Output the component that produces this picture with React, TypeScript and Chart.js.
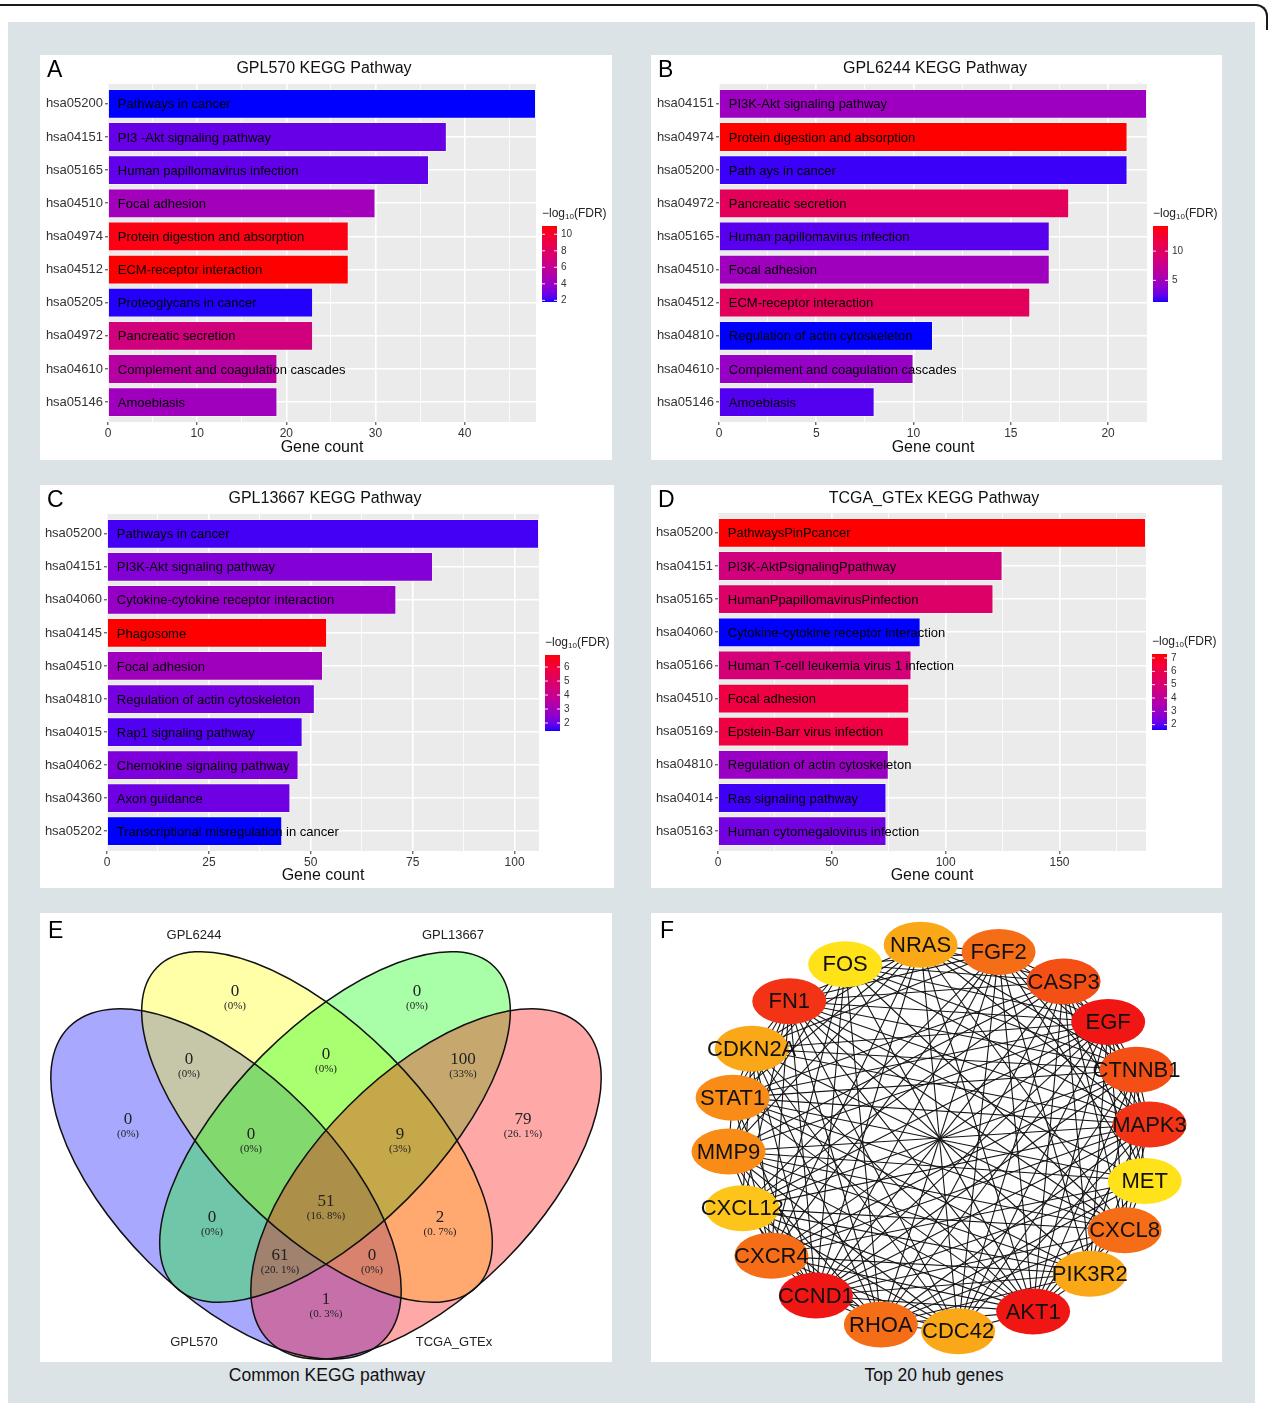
import React, { useEffect, useRef } from "react";
import { Chart, registerables } from "chart.js";

Chart.register(...registerables);

const SANS = '"Liberation Sans", Arial, Helvetica, sans-serif';
const SERIF = '"Liberation Serif", "Times New Roman", serif';
Chart.defaults.font.family = SANS;

// ---------------- Panel A : GPL570 ----------------
const codesA = ["hsa05200", "hsa04151", "hsa05165", "hsa04510", "hsa04974", "hsa04512", "hsa05205", "hsa04972", "hsa04610", "hsa05146"];
const pathwaysA = ["Pathways in cancer", "PI3 -Akt signaling pathway", "Human papillomavirus infection", "Focal adhesion", "Protein digestion and absorption", "ECM-receptor interaction", "Proteoglycans in cancer", "Pancreatic secretion", "Complement and coagulation cascades", "Amoebiasis"];
const countsA = [48, 38, 36, 30, 27, 27, 23, 23, 19, 19];
const log10FdrA = [1.8, 2.7, 2.6, 4.4, 10.7, 11.0, 1.9, 6.9, 5.3, 4.3];
const xTicksA = [0, 10, 20, 30, 40];
const legendTicksA = [2, 4, 6, 8, 10];

// ---------------- Panel B : GPL6244 ----------------
const codesB = ["hsa04151", "hsa04974", "hsa05200", "hsa04972", "hsa05165", "hsa04510", "hsa04512", "hsa04810", "hsa04610", "hsa05146"];
const pathwaysB = ["PI3K-Akt signaling pathway", "Protein digestion and absorption", "Path ays in cancer", "Pancreatic secretion", "Human papillomavirus infection", "Focal adhesion", "ECM-receptor interaction", "Regulation of actin cytoskeleton", "Complement and coagulation cascades", "Amoebiasis"];
const countsB = [22, 21, 21, 18, 17, 17, 16, 11, 10, 8];
const log10FdrB = [4.7, 14.3, 1.7, 10.4, 2.2, 4.8, 10.4, 1.3, 4.4, 2.1];
const xTicksB = [0, 5, 10, 15, 20];
const legendTicksB = [5, 10];

// ---------------- Panel C : GPL13667 ----------------
const codesC = ["hsa05200", "hsa04151", "hsa04060", "hsa04145", "hsa04510", "hsa04810", "hsa04015", "hsa04062", "hsa04360", "hsa05202"];
const pathwaysC = ["Pathways in cancer", "PI3K-Akt signaling pathway", "Cytokine-cytokine receptor interaction", "Phagosome", "Focal adhesion", "Regulation of actin cytoskeleton", "Rap1 signaling pathway", "Chemokine signaling pathway", "Axon guidance", "Transcriptional misregulation in cancer"];
const countsC = [106, 80, 71, 54, 53, 51, 48, 47, 45, 43];
const log10FdrC = [1.65, 2.35, 2.7, 6.86, 2.9, 2.15, 1.75, 2.25, 2.05, 1.43];
const xTicksC = [0, 25, 50, 75, 100];
const legendTicksC = [2, 3, 4, 5, 6];

// ---------------- Panel D : TCGA_GTEx ----------------
const codesD = ["hsa05200", "hsa04151", "hsa05165", "hsa04060", "hsa05166", "hsa04510", "hsa05169", "hsa04810", "hsa04014", "hsa05163"];
const pathwaysD = ["PathwaysPinPcancer", "PI3K-AktPsignalingPpathway", "HumanPpapillomavirusPinfection", "Cytokine-cytokine receptor interaction", "Human T-cell leukemia virus 1 infection", "Focal adhesion", "Epstein-Barr virus infection", "Regulation of actin cytoskeleton", "Ras signaling pathway", "Human cytomegalovirus infection"];
const countsD = [188, 125, 121, 89, 85, 84, 84, 75, 74, 74];
const log10FdrD = [7.3, 4.75, 5.3, 1.6, 4.9, 6.2, 6.2, 3.0, 1.8, 2.3];
const xTicksD = [0, 50, 100, 150];
const legendTicksD = [2, 3, 4, 5, 6, 7];

// ---------------- Panel E : Venn ----------------
const vennSets = ["GPL570", "GPL6244", "GPL13667", "TCGA_GTEx"];
// region order: 570, 6244, 13667, TCGA, 570&6244, 6244&13667, 13667&TCGA, 570&6244&13667,
// 6244&13667&TCGA, all, 570&13667, 6244&TCGA, 570&13667&TCGA, 570&6244&TCGA, 570&TCGA
const vennCounts = [0, 0, 0, 79, 0, 0, 100, 0, 9, 51, 0, 2, 61, 0, 1];

// ---------------- Panel F : network ----------------
const hubGenes = ["MAPK3", "MET", "CXCL8", "PIK3R2", "AKT1", "CDC42", "RHOA", "CCND1", "CXCR4", "CXCL12", "MMP9", "STAT1", "CDKN2A", "FN1", "FOS", "NRAS", "FGF2", "CASP3", "EGF", "CTNNB1"];
const absentLinks = [
  "MET-FOS", "MET-CXCL12", "MET-NRAS", "MET-CDC42", "MET-CDKN2A", "MET-PIK3R2", "MET-MAPK3",
  "FOS-CXCL12", "FOS-PIK3R2", "FOS-CDKN2A", "FOS-CDC42", "FOS-NRAS", "FOS-FN1",
  "CXCL12-STAT1", "CXCL12-MMP9", "CXCL12-NRAS", "CXCL12-CXCR4",
  "NRAS-RHOA", "NRAS-PIK3R2", "CDC42-PIK3R2", "CDC42-STAT1", "CDC42-CXCL8",
  "PIK3R2-CDKN2A", "CDKN2A-MMP9", "CDKN2A-CASP3", "STAT1-RHOA", "STAT1-FGF2",
  "MMP9-CTNNB1", "MMP9-FGF2", "CXCR4-CXCL8", "CXCR4-CASP3", "RHOA-CTNNB1", "CXCL8-FGF2",
];

// ---------------- layout (not data) ----------------
const VENN_W = 572, VENN_H = 449;
const vennEllipses = [
  { cx: 186, cy: 271, a: 222, b: 110, rot: 45, color: "rgba(0,0,255,0.34)" },
  { cx: 277, cy: 214, a: 226, b: 102, rot: 45, color: "rgba(255,255,0,0.34)" },
  { cx: 295, cy: 214, a: 226, b: 102, rot: -45, color: "rgba(0,255,0,0.34)" },
  { cx: 386, cy: 271, a: 222, b: 110, rot: -45, color: "rgba(255,0,0,0.34)" },
];
const vennLabelPos = [[88, 207], [195, 79], [377, 79], [483, 207], [149, 147], [286, 142], [423, 147], [211, 222], [360, 222], [286, 289], [172, 305], [400, 305], [240, 343], [332, 343], [286, 387]];
const vennSetLabelPos = [[154, 429], [154, 22], [413, 22], [414, 429]];

const NET_W = 571, NET_H = 449;
const NET_CX = 288, NET_CY = 225, NET_RX = 211, NET_RY = 194;
const nodeAngles = [-4, 12.8, 28.4, 44.4, 63.5, 84.8, 106, 125.7, 142.6, 158.8, 176, 192, 207.4, 224.8, 243.6, 265, 286.4, 306.2, 323.3, 339.4];

// ---------------- colour helpers ----------------
function toLin(c: number) { const s = c / 255; return s <= 0.04045 ? s / 12.92 : Math.pow((s + 0.055) / 1.055, 2.4); }
function fromLin(c: number) { const v = c <= 0.0031308 ? 12.92 * c : 1.055 * Math.pow(Math.max(c, 0), 1 / 2.4) - 0.055; return Math.round(Math.max(0, Math.min(1, v)) * 255); }
const WX = 0.95047, WZ = 1.08883;
function rgb2lab(r: number, g: number, b: number) {
  const R = toLin(r), G = toLin(g), B = toLin(b);
  const X = (0.4124 * R + 0.3576 * G + 0.1805 * B) / WX;
  const Y = 0.2126 * R + 0.7152 * G + 0.0722 * B;
  const Z = (0.0193 * R + 0.1192 * G + 0.9505 * B) / WZ;
  const f = (t: number) => (t > 0.008856 ? Math.cbrt(t) : 7.787 * t + 16 / 116);
  const fx = f(X), fy = f(Y), fz = f(Z);
  return [116 * fy - 16, 500 * (fx - fy), 200 * (fy - fz)];
}
function lab2rgb(L: number, a: number, b: number) {
  const fy = (L + 16) / 116, fx = fy + a / 500, fz = fy - b / 200;
  const fi = (t: number) => (t * t * t > 0.008856 ? t * t * t : (t - 16 / 116) / 7.787);
  const X = fi(fx) * WX, Y = fi(fy), Z = fi(fz) * WZ;
  return [
    fromLin(3.2406 * X - 1.5372 * Y - 0.4986 * Z),
    fromLin(-0.9689 * X + 1.8758 * Y + 0.0415 * Z),
    fromLin(0.0557 * X - 0.204 * Y + 1.057 * Z),
  ];
}
const LAB_LOW = rgb2lab(0, 0, 255);
const LAB_HIGH = rgb2lab(255, 0, 0);
function gradColor(t: number) {
  const u = Math.max(0, Math.min(1, t));
  const [r, g, b] = lab2rgb(
    LAB_LOW[0] + (LAB_HIGH[0] - LAB_LOW[0]) * u,
    LAB_LOW[1] + (LAB_HIGH[1] - LAB_LOW[1]) * u,
    LAB_LOW[2] + (LAB_HIGH[2] - LAB_LOW[2]) * u
  );
  return `rgb(${r},${g},${b})`;
}

// ---------------- bar panels ----------------
type BarCfg = {
  id: string; left: number; top: number; w: number; h: number;
  plot: [number, number, number, number];
  letter: string; title: string;
  codes: string[]; names: string[]; counts: number[]; fdr: number[];
  xTicks: number[]; legendTicks: number[]; legendTop: number;
};

const barPanels: BarCfg[] = [
  { id: "A", left: 40, top: 55, w: 572, h: 405, plot: [68, 29, 496, 367], letter: "A", title: "GPL570 KEGG Pathway", codes: codesA, names: pathwaysA, counts: countsA, fdr: log10FdrA, xTicks: xTicksA, legendTicks: legendTicksA, legendTop: 171 },
  { id: "B", left: 651, top: 55, w: 571, h: 405, plot: [68, 29, 496, 367], letter: "B", title: "GPL6244 KEGG Pathway", codes: codesB, names: pathwaysB, counts: countsB, fdr: log10FdrB, xTicks: xTicksB, legendTicks: legendTicksB, legendTop: 171 },
  { id: "C", left: 40, top: 485, w: 574, h: 403, plot: [67, 29, 499, 366], letter: "C", title: "GPL13667 KEGG Pathway", codes: codesC, names: pathwaysC, counts: countsC, fdr: log10FdrC, xTicks: xTicksC, legendTicks: legendTicksC, legendTop: 170 },
  { id: "D", left: 651, top: 485, w: 571, h: 403, plot: [67, 28, 495, 366], letter: "D", title: "TCGA_GTEx KEGG Pathway", codes: codesD, names: pathwaysD, counts: countsD, fdr: log10FdrD, xTicks: xTicksD, legendTicks: legendTicksD, legendTop: 169 },
];

function makeBarChart(canvas: HTMLCanvasElement, c: BarCfg) {
  const [pl, pt, pr, pb] = c.plot;
  const n = c.codes.length;
  const maxX = Math.max(...c.counts);
  const step = c.xTicks[1] - c.xTicks[0];
  const gridVals: number[] = [];
  for (let v = 0; v <= maxX + 1e-9; v += step / 2) gridVals.push(v);
  const isMajor = (v: number) => c.xTicks.some((t) => Math.abs(t - v) < 1e-9);
  const lo = Math.min(...c.fdr), hi = Math.max(...c.fdr);
  const colors = c.fdr.map((v) => gradColor((v - lo) / (hi - lo)));

  const decor = {
    id: "decor" + c.id,
    beforeDraw(chart: any) {
      const { ctx, chartArea: a } = chart;
      ctx.save();
      ctx.fillStyle = "#EBEBEB";
      ctx.fillRect(a.left, a.top, a.right - a.left, a.bottom - a.top);
      ctx.restore();
    },
    afterDatasetsDraw(chart: any) {
      const { ctx } = chart;
      const meta = chart.getDatasetMeta(0);
      ctx.save();
      ctx.font = `13px ${SANS}`;
      ctx.fillStyle = "#000";
      ctx.textAlign = "left";
      ctx.textBaseline = "middle";
      meta.data.forEach((el: any, i: number) => {
        ctx.fillText(c.names[i], el.base + 9, el.y + 1);
      });
      ctx.restore();
    },
    afterDraw(chart: any) {
      const { ctx, chartArea: a } = chart;
      ctx.save();
      ctx.fillStyle = "#000";
      ctx.font = `23px ${SANS}`;
      ctx.textBaseline = "middle";
      ctx.textAlign = "left";
      ctx.fillText(c.letter, 7, 16);
      ctx.font = `16px ${SANS}`;
      ctx.textAlign = "center";
      ctx.fillStyle = "#111";
      ctx.fillText(c.title, (a.left + a.right) / 2 + 2, 14);
      const lx = a.right + 6, ly = c.legendTop, lw = 15, lh = 76;
      ctx.textAlign = "left";
      ctx.fillStyle = "#222";
      ctx.font = `12px ${SANS}`;
      let tx = lx;
      const ty = ly - 12;
      ctx.fillText("\u2212log", tx, ty);
      tx += ctx.measureText("\u2212log").width;
      ctx.font = `8px ${SANS}`;
      ctx.fillText("10", tx, ty + 3);
      tx += ctx.measureText("10").width;
      ctx.font = `12px ${SANS}`;
      ctx.fillText("(FDR)", tx, ty);
      for (let yy = 0; yy < lh; yy++) {
        ctx.fillStyle = gradColor(1 - (yy + 0.5) / lh);
        ctx.fillRect(lx, ly + yy, lw, 1);
      }
      ctx.font = `10px ${SANS}`;
      ctx.textBaseline = "middle";
      c.legendTicks.forEach((v) => {
        const y = ly + lh - ((v - lo) / (hi - lo)) * lh;
        ctx.strokeStyle = "rgba(255,255,255,0.9)";
        ctx.lineWidth = 1;
        ctx.beginPath();
        ctx.moveTo(lx, y); ctx.lineTo(lx + 3, y);
        ctx.moveTo(lx + lw - 3, y); ctx.lineTo(lx + lw, y);
        ctx.stroke();
        ctx.fillStyle = "#333";
        ctx.fillText(String(v), lx + lw + 4, y);
      });
      ctx.restore();
    },
  };

  return new Chart(canvas, {
    type: "bar",
    data: {
      datasets: [{
        data: c.counts.map((v, i) => ({ x: v, y: i })) as any,
        backgroundColor: colors,
        borderColor: "rgba(255,255,255,0.45)",
        borderWidth: 1,
        barPercentage: 0.9,
        categoryPercentage: 1,
      }],
    },
    options: {
      indexAxis: "y",
      animation: false,
      responsive: false,
      events: [],
      layout: { padding: { left: 0, top: pt, right: c.w - pr, bottom: 0 } },
      plugins: { legend: { display: false }, tooltip: { enabled: false }, title: { display: false } },
      scales: {
        x: {
          type: "linear",
          min: 0,
          max: maxX,
          offset: false,
          afterBuildTicks: (s: any) => { s.ticks = gridVals.map((v) => ({ value: v })); },
          afterFit: (s: any) => { s.height = c.h - pb; },
          ticks: {
            callback: (v: any) => (isMajor(Number(v)) ? String(v) : ""),
            font: { size: 12, family: SANS },
            color: "#333",
            padding: 1,
            maxRotation: 0,
            autoSkip: false,
          },
          grid: {
            offset: false,
            color: "#ffffff",
            lineWidth: (ctx: any) => (ctx.tick && isMajor(ctx.tick.value) ? 1.6 : 0.8),
            tickColor: (ctx: any) => (ctx.tick && isMajor(ctx.tick.value) ? "#333" : "rgba(0,0,0,0)"),
            tickLength: 3,
            tickWidth: 1,
          },
          border: { display: false },
          title: { display: true, text: "Gene count", font: { size: 16, family: SANS }, color: "#111", padding: { top: 0, bottom: 3 } },
        },
        y: {
          type: "linear",
          min: -0.6,
          max: n - 0.4,
          reverse: true,
          offset: false,
          afterBuildTicks: (s: any) => { s.ticks = c.codes.map((_, i) => ({ value: i })); },
          afterFit: (s: any) => { s.width = pl; },
          ticks: {
            callback: (v: any) => c.codes[Number(v)] ?? "",
            font: { size: 13, family: SANS },
            color: "#333",
            padding: 2,
            autoSkip: false,
          },
          grid: { offset: false, color: "#ffffff", lineWidth: 1.6, tickColor: "#333", tickLength: 3, tickWidth: 1 },
          border: { display: false },
        },
      },
    } as any,
    plugins: [decor],
  });
}

function BarPanel({ cfg }: { cfg: BarCfg }) {
  const ref = useRef<HTMLCanvasElement>(null);
  useEffect(() => {
    const chart = makeBarChart(ref.current!, cfg);
    return () => chart.destroy();
  }, [cfg]);
  return (
    <div style={{ position: "absolute", left: cfg.left, top: cfg.top, width: cfg.w, height: cfg.h, background: "#fff" }}>
      <canvas ref={ref} width={cfg.w} height={cfg.h} style={{ display: "block", width: cfg.w, height: cfg.h }} />
    </div>
  );
}

// ---------------- Venn ----------------
function fmtPct(c: number, total: number) {
  const p = Math.round((c / total) * 1000) / 10;
  return "(" + String(p).replace(".", ". ") + "%)";
}

function VennPanel() {
  const ref = useRef<HTMLCanvasElement>(null);
  useEffect(() => {
    const total = vennCounts.reduce((s, v) => s + v, 0);
    const plugin = {
      id: "venn",
      beforeDatasetsDraw(chart: any) {
        const { ctx } = chart;
        const xs = chart.scales.x, ys = chart.scales.y;
        const kx = xs.getPixelForValue(1) - xs.getPixelForValue(0);
        const ky = Math.abs(ys.getPixelForValue(1) - ys.getPixelForValue(0));
        const path = (e: any) => {
          ctx.beginPath();
          ctx.ellipse(xs.getPixelForValue(e.cx), ys.getPixelForValue(e.cy), e.a * kx, e.b * ky, (e.rot * Math.PI) / 180, 0, Math.PI * 2);
        };
        ctx.save();
        vennEllipses.forEach((e) => { path(e); ctx.fillStyle = e.color; ctx.fill(); });
        ctx.strokeStyle = "#111";
        ctx.lineWidth = 1.5;
        vennEllipses.forEach((e) => { path(e); ctx.stroke(); });
        ctx.restore();
      },
      afterDatasetsDraw(chart: any) {
        const { ctx } = chart;
        const meta = chart.getDatasetMeta(0);
        ctx.save();
        ctx.textAlign = "center";
        ctx.textBaseline = "middle";
        ctx.fillStyle = "#222";
        meta.data.forEach((el: any, i: number) => {
          ctx.font = `17px ${SERIF}`;
          ctx.fillText(String(vennCounts[i]), el.x, el.y);
          ctx.font = `11px ${SERIF}`;
          ctx.fillText(fmtPct(vennCounts[i], total), el.x, el.y + 14);
        });
        const xs = chart.scales.x, ys = chart.scales.y;
        ctx.font = `13px ${SANS}`;
        vennSets.forEach((s, i) => {
          ctx.fillText(s, xs.getPixelForValue(vennSetLabelPos[i][0]), ys.getPixelForValue(vennSetLabelPos[i][1]));
        });
        ctx.textAlign = "left";
        ctx.fillStyle = "#000";
        ctx.font = `23px ${SANS}`;
        ctx.fillText("E", 8, 19);
        ctx.restore();
      },
    };
    const chart = new Chart(ref.current!, {
      type: "scatter",
      data: { datasets: [{ data: vennLabelPos.map(([x, y]) => ({ x, y })), pointRadius: 0 }] },
      options: {
        animation: false, responsive: false, events: [],
        layout: { padding: 0 },
        plugins: { legend: { display: false }, tooltip: { enabled: false } },
        scales: {
          x: { type: "linear", min: 0, max: VENN_W, display: false },
          y: { type: "linear", min: 0, max: VENN_H, reverse: true, display: false },
        },
      } as any,
      plugins: [plugin],
    });
    return () => chart.destroy();
  }, []);
  return (
    <div style={{ position: "absolute", left: 40, top: 913, width: VENN_W, height: VENN_H, background: "#fff" }}>
      <canvas ref={ref} width={VENN_W} height={VENN_H} style={{ display: "block", width: VENN_W, height: VENN_H }} />
    </div>
  );
}

// ---------------- Network ----------------
function NetworkPanel() {
  const ref = useRef<HTMLCanvasElement>(null);
  useEffect(() => {
    const absent = new Set(absentLinks.flatMap((p) => { const [a, b] = p.split("-"); return [a + "|" + b, b + "|" + a]; }));
    const edges: [number, number][] = [];
    for (let i = 0; i < hubGenes.length; i++)
      for (let j = i + 1; j < hubGenes.length; j++)
        if (!absent.has(hubGenes[i] + "|" + hubGenes[j])) edges.push([i, j]);
    const degree = hubGenes.map((_, i) => edges.filter(([a, b]) => a === i || b === i).length);
    const dMin = Math.min(...degree), dMax = Math.max(...degree);
    const nodeColor = (d: number) => {
      const t = (d - dMin) / (dMax - dMin);
      const r = Math.round(255 + (240 - 255) * t);
      const g = Math.round(226 + (22 - 226) * t);
      const b = Math.round(26 + (20 - 26) * t);
      return `rgb(${r},${g},${b})`;
    };
    const points = hubGenes.map((_, i) => {
      const t = (nodeAngles[i] * Math.PI) / 180;
      return { x: NET_CX + NET_RX * Math.cos(t), y: NET_CY + NET_RY * Math.sin(t) };
    });
    const plugin = {
      id: "net",
      beforeDatasetsDraw(chart: any) {
        const { ctx } = chart;
        const els = chart.getDatasetMeta(0).data;
        ctx.save();
        ctx.strokeStyle = "#151515";
        ctx.lineWidth = 1.1;
        edges.forEach(([a, b]) => {
          ctx.beginPath();
          ctx.moveTo(els[a].x, els[a].y);
          ctx.lineTo(els[b].x, els[b].y);
          ctx.stroke();
        });
        ctx.restore();
      },
      afterDatasetsDraw(chart: any) {
        const { ctx } = chart;
        const els = chart.getDatasetMeta(0).data;
        ctx.save();
        els.forEach((el: any, i: number) => {
          ctx.beginPath();
          ctx.ellipse(el.x, el.y, 37, 23, 0, 0, Math.PI * 2);
          ctx.fillStyle = nodeColor(degree[i]);
          ctx.fill();
        });
        ctx.fillStyle = "#111";
        ctx.font = `22px ${SANS}`;
        ctx.textAlign = "center";
        ctx.textBaseline = "middle";
        els.forEach((el: any, i: number) => ctx.fillText(hubGenes[i], el.x, el.y + 1));
        ctx.textAlign = "left";
        ctx.fillStyle = "#000";
        ctx.font = `23px ${SANS}`;
        ctx.fillText("F", 9, 19);
        ctx.restore();
      },
    };
    const chart = new Chart(ref.current!, {
      type: "scatter",
      data: { datasets: [{ data: points, pointRadius: 0 }] },
      options: {
        animation: false, responsive: false, events: [],
        layout: { padding: 0 },
        plugins: { legend: { display: false }, tooltip: { enabled: false } },
        scales: {
          x: { type: "linear", min: 0, max: NET_W, display: false },
          y: { type: "linear", min: 0, max: NET_H, reverse: true, display: false },
        },
      } as any,
      plugins: [plugin],
    });
    return () => chart.destroy();
  }, []);
  return (
    <div style={{ position: "absolute", left: 651, top: 913, width: NET_W, height: NET_H, background: "#fff" }}>
      <canvas ref={ref} width={NET_W} height={NET_H} style={{ display: "block", width: NET_W, height: NET_H }} />
    </div>
  );
}

export default function App() {
  const caption: React.CSSProperties = {
    position: "absolute", top: 1364, height: 22, lineHeight: "22px", textAlign: "center",
    fontFamily: SANS, fontSize: 17.5, color: "#111", width: 400,
  };
  return (
    <div style={{ position: "absolute", left: 0, top: 0, width: 1271, height: 1403, overflow: "hidden", background: "#fff" }}>
      <div style={{ position: "absolute", left: -20, top: 4, width: 1286, height: 24, borderTop: "2px solid #1a1a1a", borderRight: "2px solid #1a1a1a", borderTopRightRadius: 12 }} />
      <div style={{ position: "absolute", left: 8, top: 22, width: 1247, height: 1381, background: "#dce3e7" }} />
      {barPanels.map((p) => <BarPanel key={p.id} cfg={p} />)}
      <VennPanel />
      <NetworkPanel />
      <div style={{ ...caption, left: 327 - 200 }}>Common KEGG pathway</div>
      <div style={{ ...caption, left: 934 - 200 }}>Top 20 hub genes</div>
    </div>
  );
}
